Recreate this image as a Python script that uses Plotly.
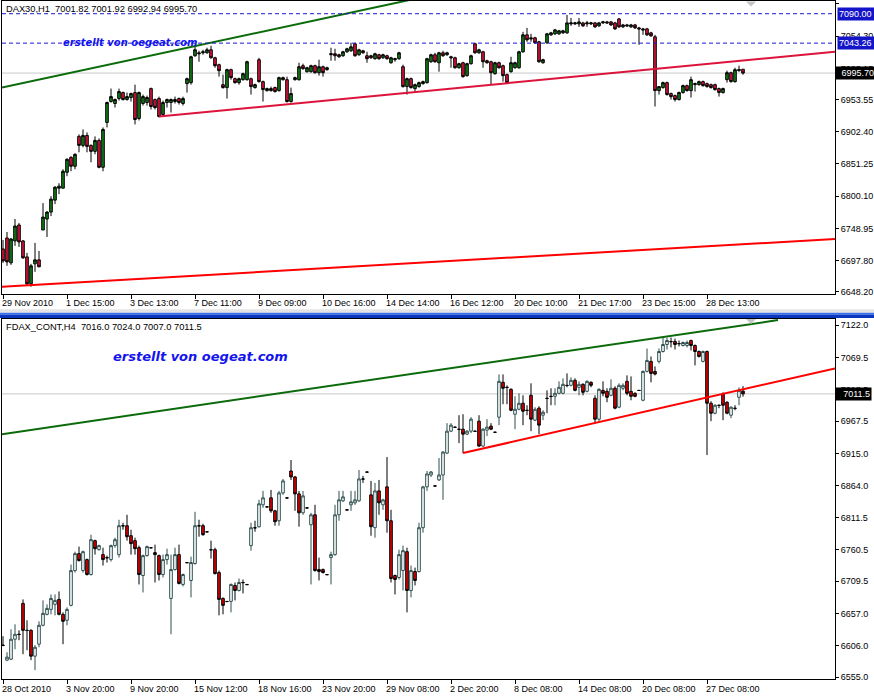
import plotly.graph_objects as go

W, H = 874, 697

# ---------------- DAX30 H1 (upper panel) ----------------
dax_title = "DAX30,H1\u00a0\u00a07001.82 7001.92 6992.94 6995.70"
dax_open = [
    6716.3, 6733.7, 6694.2, 6729.0, 6754.3, 6729.0, 6703.6, 6660.9, 6692.6, 6698.9,
    6746.4, 6763.8, 6774.8, 6793.8, 6812.8, 6812.8, 6838.1, 6861.8, 6847.6, 6895.1,
    6880.8, 6896.6, 6880.8, 6871.3, 6888.7, 6846.0, 6917.2, 6950.4, 6947.3, 6955.2,
    6964.7, 6953.6, 6956.8, 6964.7, 6923.5, 6947.3, 6948.9, 6971.0, 6953.6, 6955.2,
    6929.9, 6948.9, 6948.9, 6950.4, 6955.2, 6947.3, 6978.9, 6980.5, 7023.2, 7027.9,
    7027.9, 7027.9, 7032.7, 7020.0, 7009.0, 6977.3, 6972.6, 7001.1, 6986.8, 6980.5,
    6985.2, 6985.2, 6986.8, 6972.6, 7016.9, 6982.1, 6967.8, 6967.8, 6972.6, 6967.8,
    6988.4, 6985.2, 6950.4, 6985.2, 6985.2, 7007.4, 6997.9, 6997.9, 7007.4, 6996.3,
    7005.8, 7001.1, 7024.8, 7026.4, 7024.8, 7023.2, 7029.5, 7031.1, 7042.2, 7024.8,
    7031.1, 7023.2, 7023.2, 7018.5, 7024.8, 7020.0, 7023.2, 7012.1, 7016.9, 7018.5,
    7005.8, 6974.2, 6986.8, 6971.0, 6974.2, 6978.9, 6980.5, 7013.7, 7024.8, 7012.1,
    7027.9, 7024.8, 7021.6, 7020.0, 7004.2, 7012.1, 6991.6, 7010.6, 7042.2, 7027.9,
    7029.5, 7015.3, 7013.7, 6994.7, 7012.1, 7007.4, 6993.2, 6997.9, 7004.2, 7004.2,
    7029.5, 7056.4, 7051.7, 7051.7, 7045.4, 7012.1, 7043.8, 7056.4, 7058.0, 7058.0,
    7059.6, 7059.6, 7073.8, 7073.8, 7073.8, 7075.4, 7073.8, 7073.8, 7075.4, 7070.7,
    7075.4, 7077.0, 7077.0, 7075.4, 7081.7, 7069.1, 7072.2, 7069.1, 7072.2, 7067.5,
    7065.9, 7065.9, 7059.6, 7053.3, 6967.8, 6972.6, 6980.5, 6963.1, 6959.9, 6953.6,
    6964.7, 6975.7, 6967.8, 6977.3, 6977.3, 6982.1, 6978.9, 6977.3, 6977.3, 6971.0,
    6964.7, 6985.2, 6996.3, 6982.1, 6999.5, 7001.82,
]
dax_high = [
    6730.5, 6743.2, 6733.7, 6763.8, 6757.4, 6730.5, 6710.0, 6692.6, 6725.8, 6713.1,
    6789.1, 6776.4, 6800.1, 6816.0, 6820.7, 6842.9, 6860.3, 6863.4, 6868.2, 6898.2,
    6906.1, 6901.4, 6882.4, 6895.1, 6891.9, 6909.3, 6950.4, 6971.0, 6955.2, 6971.0,
    6966.3, 6964.7, 6964.7, 6977.3, 6966.3, 6961.5, 6959.9, 6972.6, 6955.2, 6958.3,
    6952.0, 6955.2, 6955.2, 6958.3, 6956.8, 6958.3, 6988.4, 7023.2, 7040.6, 7031.1,
    7032.7, 7035.9, 7039.0, 7021.6, 7010.6, 6993.2, 7002.6, 7002.6, 6988.4, 6988.4,
    6996.3, 7015.3, 6988.4, 6978.9, 7020.0, 6983.7, 6972.6, 6974.2, 6974.2, 6990.0,
    6990.0, 6990.0, 6972.6, 6990.0, 7012.1, 7010.6, 7005.8, 7009.0, 7009.0, 7016.9,
    7007.4, 7005.8, 7035.9, 7034.3, 7026.4, 7031.1, 7035.9, 7043.8, 7043.8, 7034.3,
    7032.7, 7029.5, 7024.8, 7027.9, 7026.4, 7026.4, 7024.8, 7021.6, 7020.0, 7029.5,
    7009.0, 6988.4, 6988.4, 6978.9, 6982.1, 6983.7, 7020.0, 7026.4, 7027.9, 7029.5,
    7031.1, 7029.5, 7023.2, 7021.6, 7012.1, 7013.7, 7012.1, 7024.8, 7043.8, 7034.3,
    7031.1, 7016.9, 7015.3, 7013.7, 7013.7, 7009.0, 6994.7, 7021.6, 7013.7, 7031.1,
    7061.2, 7067.5, 7058.0, 7053.3, 7046.9, 7018.5, 7059.6, 7061.2, 7065.9, 7064.3,
    7064.3, 7088.1, 7083.3, 7077.0, 7083.3, 7077.0, 7078.6, 7077.0, 7077.0, 7077.0,
    7078.6, 7078.6, 7078.6, 7077.0, 7083.3, 7073.8, 7073.8, 7073.8, 7073.8, 7069.1,
    7067.5, 7067.5, 7061.2, 7056.4, 6974.2, 6982.1, 6982.1, 6964.7, 6961.5, 6966.3,
    6977.3, 6977.3, 6990.0, 6980.5, 6983.7, 6983.7, 6980.5, 6978.9, 6978.9, 6972.6,
    6972.6, 6999.5, 6997.9, 7004.2, 7007.4, 7001.92,
]
dax_low = [
    6694.2, 6689.4, 6691.0, 6721.1, 6719.5, 6700.5, 6657.8, 6656.2, 6679.9, 6687.8,
    6746.4, 6735.3, 6768.5, 6787.5, 6803.3, 6812.8, 6831.8, 6839.7, 6842.9, 6869.8,
    6877.7, 6869.8, 6853.9, 6866.6, 6844.4, 6839.7, 6909.3, 6948.9, 6940.9, 6952.0,
    6952.0, 6952.0, 6950.4, 6914.1, 6920.4, 6944.1, 6944.1, 6937.8, 6937.8, 6925.1,
    6926.7, 6940.9, 6933.0, 6947.3, 6945.7, 6944.1, 6964.7, 6977.3, 7021.6, 7013.7,
    7024.8, 7026.4, 7018.5, 7004.2, 6990.0, 6971.0, 6955.2, 6985.2, 6978.9, 6977.3,
    6983.7, 6983.7, 6961.5, 6971.0, 6980.5, 6950.4, 6966.3, 6966.3, 6964.7, 6966.3,
    6983.7, 6948.9, 6948.9, 6983.7, 6983.7, 7001.1, 6996.3, 6996.3, 6994.7, 6991.6,
    6990.0, 6999.5, 7015.3, 7015.3, 7020.0, 7021.6, 7027.9, 7029.5, 7021.6, 7023.2,
    7026.4, 7012.1, 7018.5, 7016.9, 7016.9, 7018.5, 7016.9, 7010.6, 7013.7, 7016.9,
    6972.6, 6961.5, 6971.0, 6966.3, 6972.6, 6977.3, 6978.9, 7012.1, 7012.1, 6997.9,
    7021.6, 7023.2, 7004.2, 7002.6, 7002.6, 6988.4, 6990.0, 7009.0, 7026.4, 7026.4,
    7004.2, 7010.6, 6977.3, 6993.2, 7002.6, 6982.1, 6978.9, 6996.3, 7002.6, 7002.6,
    7027.9, 7045.4, 7045.4, 7042.2, 7012.1, 7010.6, 7042.2, 7054.8, 7056.4, 7056.4,
    7058.0, 7058.0, 7070.7, 7072.2, 7069.1, 7069.1, 7069.1, 7072.2, 7067.5, 7069.1,
    7073.8, 7073.8, 7070.7, 7064.3, 7067.5, 7067.5, 7069.1, 7067.5, 7065.9, 7040.6,
    7056.4, 7054.8, 7053.3, 6942.5, 6961.5, 6971.0, 6959.9, 6953.6, 6950.4, 6952.0,
    6963.1, 6966.3, 6956.8, 6966.3, 6975.7, 6974.2, 6972.6, 6971.0, 6967.8, 6958.3,
    6963.1, 6980.5, 6980.5, 6980.5, 6997.9, 6992.94,
]
dax_close = [
    6697.3, 6695.7, 6732.1, 6752.7, 6727.4, 6702.1, 6660.9, 6689.4, 6698.9, 6687.8,
    6766.9, 6774.8, 6795.4, 6814.4, 6816.0, 6839.7, 6858.7, 6847.6, 6866.6, 6880.8,
    6896.6, 6879.2, 6871.3, 6888.7, 6846.0, 6906.1, 6948.9, 6958.3, 6953.6, 6966.3,
    6953.6, 6958.3, 6963.1, 6921.9, 6964.7, 6958.3, 6956.8, 6942.5, 6940.9, 6926.7,
    6948.9, 6953.6, 6953.6, 6953.6, 6948.9, 6955.2, 6986.8, 7021.6, 7032.7, 7026.4,
    7029.5, 7032.7, 7020.0, 7007.4, 6999.5, 6972.6, 7001.1, 6988.4, 6980.5, 6986.8,
    6994.7, 7013.7, 6974.2, 6977.3, 6982.1, 6969.4, 6971.0, 6971.0, 6966.3, 6988.4,
    6985.2, 6950.4, 6963.1, 6988.4, 7005.8, 7002.6, 7004.2, 7007.4, 6996.3, 7005.8,
    6996.3, 7004.2, 7026.4, 7023.2, 7021.6, 7029.5, 7034.3, 7037.4, 7023.2, 7032.7,
    7027.9, 7018.5, 7020.0, 7026.4, 7018.5, 7024.8, 7018.5, 7020.0, 7018.5, 7027.9,
    6974.2, 6986.8, 6972.6, 6977.3, 6980.5, 6982.1, 7018.5, 7024.8, 7013.7, 7027.9,
    7023.2, 7027.9, 7020.0, 7004.2, 7010.6, 6990.0, 7010.6, 7023.2, 7027.9, 7032.7,
    7013.7, 7012.1, 6996.3, 7012.1, 7004.2, 6991.6, 6980.5, 7012.1, 7012.1, 7029.5,
    7056.4, 7048.5, 7050.1, 7043.8, 7013.7, 7016.9, 7058.0, 7059.6, 7064.3, 7062.8,
    7062.8, 7075.4, 7075.4, 7075.4, 7077.0, 7070.7, 7075.4, 7075.4, 7069.1, 7075.4,
    7077.0, 7075.4, 7072.2, 7065.9, 7069.1, 7072.2, 7070.7, 7072.2, 7067.5, 7065.9,
    7064.3, 7056.4, 7054.8, 6967.8, 6974.2, 6980.5, 6961.5, 6958.3, 6953.6, 6964.7,
    6975.7, 6967.8, 6985.2, 6978.9, 6982.1, 6975.7, 6974.2, 6972.6, 6969.4, 6964.7,
    6971.0, 6996.3, 6982.1, 7001.1, 7001.1, 6995.70,
]
dax_yticks = [7105.45, 7054.30, 7003.15, 6953.55, 6902.40, 6851.25, 6800.10, 6748.95, 6697.80, 6648.20]
dax_xlabels = ["29 Nov 2010", "1 Dec 15:00", "3 Dec 13:00", "7 Dec 11:00", "9 Dec 09:00", "10 Dec 16:00",
               "14 Dec 14:00", "16 Dec 12:00", "20 Dec 10:00", "21 Dec 17:00", "23 Dec 15:00", "28 Dec 13:00"]
dax_xlabel_bars = [0, 16, 32, 48, 64, 80, 96, 112, 128, 144, 160, 176]
dax_hlines = [7090.00, 7043.26]
dax_last = 6995.70
# trend lines: (bar index, price) end points
dax_green_x, dax_green_y = [-0.25, 105], [6972.6, 7116.4]
dax_crimson_x, dax_crimson_y = [39, 208], [6926.7, 7029.5]
dax_red_x, dax_red_y = [-0.25, 208], [6656.2, 6732.1]

# ---------------- FDAX_CONT H4 (lower panel) ----------------
fdax_title = "FDAX_CONT,H4\u00a0\u00a07016.0 7024.0 7007.0 7011.5"
fdax_open = [
    6606.4, 6582.3, 6583.9, 6616.0, 6624.0, 6673.8, 6630.4, 6630.4, 6588.7, 6608.0,
    6638.5, 6656.1, 6664.1, 6672.2, 6680.2, 6656.1, 6646.5, 6670.6, 6726.7, 6754.0,
    6726.7, 6744.4, 6720.3, 6774.9, 6760.4, 6752.4, 6747.6, 6744.4, 6766.9, 6752.4,
    6799.0, 6799.0, 6782.9, 6774.9, 6763.6, 6718.7, 6750.8, 6763.6, 6755.6, 6750.8,
    6720.3, 6744.4, 6681.8, 6728.3, 6752.4, 6704.3, 6739.6, 6710.7, 6738.0, 6799.0,
    6799.0, 6789.3, 6760.4, 6760.4, 6723.5, 6681.8, 6677.0, 6677.0, 6702.7, 6694.6,
    6707.5, 6704.3, 6766.9, 6795.8, 6797.4, 6832.7, 6829.5, 6843.9, 6823.0, 6807.0,
    6851.9, 6843.9, 6887.2, 6877.6, 6850.3, 6819.8, 6827.8, 6800.6, 6816.6, 6728.3,
    6728.3, 6720.3, 6747.6, 6752.4, 6816.6, 6839.1, 6824.6, 6832.7, 6835.9, 6839.1,
    6874.4, 6885.6, 6848.7, 6795.8, 6855.1, 6832.7, 6861.6, 6807.0, 6718.7, 6715.5,
    6726.7, 6757.2, 6694.6, 6725.1, 6725.1, 6795.8, 6861.6, 6880.8, 6863.2, 6872.8,
    6880.8, 6916.1, 6951.4, 6957.9, 6954.6, 6954.6, 6946.6, 6951.4, 6951.4, 6967.5,
    6927.4, 6953.0, 6959.5, 6949.8, 6973.9, 7030.1, 7022.1, 7018.8, 6978.7, 6986.7,
    6996.4, 6985.1, 7009.2, 6969.1, 6988.4, 6977.1, 7004.4, 7007.6, 7007.6, 7012.4,
    7012.4, 7025.3, 7025.3, 7033.3, 7022.1, 7026.9, 7015.6, 7030.1, 7004.4, 6970.7,
    7017.2, 7015.6, 7009.2, 7020.5, 6990.0, 7020.5, 7031.7, 7015.6, 7012.4, 7017.2,
    7001.2, 7047.7, 7063.8, 7047.7, 7063.8, 7079.8, 7091.1, 7095.9, 7095.9, 7092.7,
    7089.5, 7089.5, 7097.5, 7089.5, 7079.8, 7063.8, 7079.8, 6996.4, 6980.3, 6993.2,
    7010.8, 6998.0, 6977.1, 6988.4, 7006.0, 7016.0,
]
fdax_high = [
    6620.8, 6595.1, 6632.0, 6640.1, 6630.4, 6680.2, 6646.5, 6632.0, 6606.4, 6644.9,
    6678.6, 6672.2, 6688.2, 6688.2, 6693.0, 6659.3, 6667.4, 6736.4, 6757.2, 6765.3,
    6758.8, 6746.0, 6784.5, 6776.5, 6768.5, 6763.6, 6750.8, 6768.5, 6779.7, 6808.6,
    6803.8, 6816.6, 6792.5, 6779.7, 6766.9, 6752.4, 6766.9, 6764.5, 6768.5, 6752.4,
    6752.4, 6762.0, 6752.4, 6763.6, 6768.5, 6721.9, 6740.5, 6749.2, 6821.4, 6808.6,
    6802.2, 6790.0, 6774.9, 6763.6, 6726.7, 6683.4, 6677.5, 6705.9, 6707.5, 6713.9,
    6712.3, 6705.0, 6803.8, 6807.0, 6840.7, 6855.1, 6830.0, 6856.7, 6824.6, 6855.1,
    6874.4, 6844.5, 6904.9, 6879.2, 6855.1, 6855.1, 6828.5, 6819.8, 6832.7, 6747.6,
    6730.0, 6721.0, 6757.2, 6832.7, 6855.1, 6855.1, 6825.2, 6855.1, 6855.1, 6888.8,
    6879.2, 6886.2, 6871.2, 6868.0, 6872.8, 6842.3, 6909.7, 6824.6, 6720.3, 6760.4,
    6766.9, 6763.6, 6734.8, 6731.5, 6803.8, 6863.2, 6887.2, 6887.2, 6863.8, 6908.1,
    6919.3, 6964.3, 6964.3, 6958.5, 6977.1, 6978.7, 6953.0, 6973.9, 6952.0, 6977.1,
    6956.3, 6970.7, 6964.3, 6950.4, 7042.9, 7042.9, 7025.3, 7020.5, 7007.6, 7012.4,
    7009.2, 6993.2, 7028.5, 6990.0, 6991.6, 6985.1, 7017.2, 7020.5, 7020.5, 7031.7,
    7036.5, 7044.5, 7038.1, 7036.5, 7031.7, 7028.5, 7033.3, 7031.7, 7009.2, 7020.5,
    7031.7, 7020.5, 7034.9, 7023.7, 7028.5, 7028.5, 7041.3, 7039.7, 7014.0, 7017.8,
    7049.3, 7084.6, 7071.8, 7055.8, 7084.6, 7103.9, 7102.3, 7102.3, 7100.7, 7097.5,
    7095.9, 7097.5, 7099.1, 7091.1, 7081.4, 7081.4, 7081.4, 6999.6, 6994.8, 6994.0,
    7014.0, 6999.6, 6991.6, 6993.2, 7022.1, 7024.0,
]
fdax_low = [
    6604.8, 6580.7, 6582.3, 6599.9, 6614.4, 6591.9, 6598.3, 6582.3, 6566.2, 6603.1,
    6636.9, 6654.5, 6656.1, 6654.5, 6654.5, 6608.0, 6638.5, 6669.0, 6723.5, 6741.2,
    6723.5, 6718.7, 6718.7, 6752.4, 6758.8, 6734.8, 6739.6, 6741.2, 6763.6, 6747.6,
    6792.5, 6774.9, 6752.4, 6752.4, 6704.3, 6691.4, 6749.2, 6763.0, 6707.5, 6710.7,
    6715.5, 6736.4, 6624.0, 6726.7, 6704.3, 6701.1, 6739.0, 6683.4, 6736.4, 6781.3,
    6782.9, 6789.0, 6746.0, 6720.3, 6654.5, 6656.1, 6676.5, 6659.3, 6678.6, 6693.0,
    6689.8, 6704.0, 6758.8, 6789.3, 6795.8, 6827.8, 6829.0, 6819.8, 6799.0, 6799.0,
    6848.7, 6843.5, 6872.8, 6823.0, 6797.4, 6816.6, 6827.5, 6704.3, 6725.1, 6710.7,
    6721.9, 6720.0, 6704.3, 6750.8, 6807.0, 6837.5, 6824.2, 6823.0, 6832.7, 6837.5,
    6868.0, 6885.2, 6782.9, 6779.7, 6816.6, 6824.6, 6787.7, 6707.5, 6688.2, 6712.3,
    6694.6, 6659.3, 6683.4, 6702.7, 6723.5, 6787.7, 6855.1, 6877.6, 6862.8, 6871.2,
    6840.7, 6914.5, 6949.8, 6957.5, 6932.2, 6916.1, 6945.0, 6948.2, 6951.0, 6925.8,
    6925.8, 6943.4, 6953.0, 6949.4, 6961.1, 6994.8, 6994.8, 6983.5, 6954.6, 6985.1,
    6961.1, 6977.1, 6951.4, 6967.5, 6946.6, 6969.1, 6980.3, 6993.2, 6993.2, 7010.8,
    7010.8, 7022.1, 7023.7, 7015.6, 7009.2, 7009.2, 7014.0, 7022.1, 6964.3, 6967.5,
    7007.6, 6998.0, 7007.6, 6986.7, 6988.4, 7017.2, 7009.2, 7001.2, 7006.0, 7016.8,
    6999.6, 7046.1, 7030.1, 7041.3, 7060.6, 7078.2, 7083.0, 7086.3, 7083.0, 7087.9,
    7087.9, 7086.3, 7081.4, 7057.4, 7070.2, 7062.2, 6912.9, 6967.5, 6978.7, 6988.4,
    6969.1, 6978.7, 6972.3, 6985.1, 6993.2, 7007.0,
]
fdax_close = [
    6606.1, 6587.1, 6616.0, 6624.0, 6623.7, 6630.4, 6630.1, 6588.7, 6603.1, 6638.5,
    6657.7, 6665.7, 6681.8, 6678.6, 6656.1, 6644.9, 6664.1, 6726.7, 6754.0, 6742.8,
    6757.2, 6720.3, 6776.5, 6762.0, 6766.9, 6744.4, 6747.3, 6766.9, 6776.5, 6799.0,
    6798.7, 6781.3, 6770.1, 6762.0, 6720.3, 6750.8, 6765.3, 6763.3, 6752.4, 6720.3,
    6744.4, 6752.4, 6728.3, 6752.4, 6705.9, 6720.3, 6739.3, 6739.6, 6799.0, 6798.7,
    6784.5, 6789.0, 6760.1, 6721.9, 6680.2, 6670.6, 6676.7, 6704.3, 6694.6, 6707.5,
    6707.2, 6704.0, 6795.8, 6795.5, 6834.3, 6843.9, 6829.2, 6823.0, 6805.4, 6851.9,
    6871.2, 6843.6, 6877.6, 6850.3, 6819.8, 6847.1, 6827.5, 6816.6, 6726.7, 6725.1,
    6723.5, 6720.0, 6752.4, 6816.6, 6840.7, 6845.5, 6824.3, 6837.5, 6840.7, 6874.4,
    6874.1, 6885.3, 6797.4, 6855.1, 6835.9, 6840.7, 6807.0, 6713.9, 6712.3, 6752.4,
    6758.8, 6694.6, 6726.7, 6710.7, 6795.8, 6861.6, 6882.4, 6885.6, 6862.9, 6880.8,
    6917.7, 6951.4, 6961.1, 6957.6, 6954.3, 6946.6, 6951.4, 6970.7, 6951.1, 6927.4,
    6954.6, 6957.9, 6954.6, 6949.5, 7031.7, 7020.5, 7021.8, 6985.1, 6986.7, 6996.4,
    6983.5, 6984.8, 6970.7, 6986.7, 6961.1, 6981.9, 7004.1, 7007.3, 7012.4, 7022.1,
    7026.9, 7025.0, 7033.3, 7017.2, 7026.9, 7014.0, 7031.7, 7025.3, 6970.7, 7018.8,
    7012.4, 7006.0, 7020.5, 6988.4, 7025.3, 7025.3, 7012.4, 7007.6, 7007.6, 7016.9,
    7047.7, 7065.4, 7044.5, 7043.5, 7079.8, 7091.1, 7097.5, 7095.6, 7091.1, 7092.4,
    7094.3, 7094.3, 7089.5, 7079.8, 7071.8, 7079.8, 6996.4, 6980.3, 6993.2, 6992.9,
    6993.2, 6980.3, 6990.0, 6988.1, 7017.2, 7011.5,
]
fdax_yticks = [7122.0, 7069.5, 7018.5, 6967.5, 6915.0, 6864.0, 6811.5, 6760.5, 6709.5, 6657.0, 6606.0, 6555.0]
fdax_xlabels = ["28 Oct 2010", "3 Nov 20:00", "9 Nov 20:00", "15 Nov 12:00", "18 Nov 16:00", "23 Nov 20:00",
                "29 Nov 08:00", "2 Dec 20:00", "8 Dec 08:00", "14 Dec 08:00", "20 Dec 08:00", "27 Dec 08:00"]
fdax_xlabel_bars = [0, 16, 32, 48, 64, 80, 96, 112, 128, 144, 160, 176]
fdax_last = 7011.5
fdax_green_x, fdax_green_y = [-0.25, 193.75], [6946.6, 7130.4]
fdax_red_x, fdax_red_y = [115, 208], [6916.1, 7052.6]

watermark = "erstellt von oegeat.com"

# ---------------- figure ----------------
def yp(p):
    return 1 - p / H

def xp(p):
    return p / W

FONT = "Liberation Sans"
fig = go.Figure()

fig.add_trace(go.Candlestick(
    x=list(range(len(dax_open))), open=dax_open, high=dax_high, low=dax_low, close=dax_close,
    xaxis="x", yaxis="y", whiskerwidth=0, showlegend=False,
    increasing=dict(line=dict(color="black", width=1), fillcolor="#157f15"),
    decreasing=dict(line=dict(color="black", width=1), fillcolor="#dc143c"),
))
fig.add_trace(go.Candlestick(
    x=list(range(len(fdax_open))), open=fdax_open, high=fdax_high, low=fdax_low, close=fdax_close,
    xaxis="x2", yaxis="y2", whiskerwidth=0, showlegend=False,
    increasing=dict(line=dict(color="#2f4f4f", width=1), fillcolor="white"),
    decreasing=dict(line=dict(color="black", width=1), fillcolor="#e00000"),
))

def trend(xs, ys, color, xa, ya):
    fig.add_trace(go.Scatter(x=xs, y=ys, mode="lines", line=dict(color=color, width=2),
                             xaxis=xa, yaxis=ya, showlegend=False, hoverinfo="skip"))

trend(dax_green_x, dax_green_y, "#0b6b0b", "x", "y")
trend(dax_crimson_x, dax_crimson_y, "#dc143c", "x", "y")
trend(dax_red_x, dax_red_y, "#ff0000", "x", "y")
trend(fdax_green_x, fdax_green_y, "#0b6b0b", "x2", "y2")
trend(fdax_red_x, fdax_red_y, "#ff0000", "x2", "y2")

shapes = []
# last price gray lines
shapes.append(dict(type="line", xref="x domain", x0=0, x1=1, yref="y", y0=dax_last, y1=dax_last,
                   line=dict(color="#c8c8c8", width=1), layer="below"))
shapes.append(dict(type="line", xref="x2 domain", x0=0, x1=1, yref="y2", y0=fdax_last, y1=fdax_last,
                   line=dict(color="#c8c8c8", width=1), layer="below"))
for lv in dax_hlines:
    shapes.append(dict(type="line", xref="x domain", x0=0, x1=1, yref="y", y0=lv, y1=lv,
                       line=dict(color="#1a1ad0", width=1, dash="4px,3px")))
# window separator
shapes.append(dict(type="rect", xref="paper", yref="paper", x0=0, x1=1, y0=yp(314), y1=yp(310.5),
                   fillcolor="#e4e4e4", line=dict(width=0)))
shapes.append(dict(type="rect", xref="paper", yref="paper", x0=0, x1=1, y0=yp(316), y1=yp(314),
                   fillcolor="#3a6fe6", line=dict(width=0)))
shapes.append(dict(type="rect", xref="paper", yref="paper", x0=0, x1=1, y0=yp(319.5), y1=yp(316),
                   fillcolor="#0a36c0", line=dict(width=0)))
# chart shift markers
for top in (1.5, 320.5):
    shapes.append(dict(type="path", xref="paper", yref="paper",
                       path=f"M {xp(746)},{yp(top)} L {xp(756)},{yp(top)} L {xp(751)},{yp(top+5)} Z",
                       fillcolor="#c4c4c4", line=dict(width=0)))

ann = []
ann.append(dict(xref="paper", yref="paper", x=xp(4), y=yp(9.5), xanchor="left", yanchor="middle",
                text=dax_title, showarrow=False, font=dict(size=9.3, family=FONT, color="black")))
ann.append(dict(xref="paper", yref="paper", x=xp(4), y=yp(328.5), xanchor="left", yanchor="middle",
                text=fdax_title, showarrow=False, font=dict(size=9.3, family=FONT, color="black")))
ann.append(dict(xref="paper", yref="paper", x=xp(61), y=yp(42.5), xanchor="left", yanchor="middle",
                text=f"<b><i>{watermark}</i></b>", showarrow=False,
                font=dict(size=10, family="DejaVu Sans", color="#1414ee")))
ann.append(dict(xref="paper", yref="paper", x=xp(111), y=yp(358), xanchor="left", yanchor="middle",
                text=f"<b><i>{watermark}</i></b>", showarrow=False,
                font=dict(size=13, family="DejaVu Sans", color="#1414ee")))
for b, t in zip(dax_xlabel_bars, dax_xlabels):
    ann.append(dict(xref="x", yref="paper", x=b, y=yp(304.5), xanchor="left", yanchor="middle",
                    xshift=-3, text=t, showarrow=False, font=dict(size=9, family=FONT, color="black")))
for b, t in zip(fdax_xlabel_bars, fdax_xlabels):
    ann.append(dict(xref="x2", yref="paper", x=b, y=yp(691.5), xanchor="left", yanchor="middle",
                    xshift=-3, text=t, showarrow=False, font=dict(size=9, family=FONT, color="black")))
# price tags
for lv in dax_hlines:
    ann.append(dict(xref="paper", yref="y", x=xp(837), y=lv, xanchor="left", yanchor="middle",
                    text=f"{lv:.2f}", showarrow=False, bgcolor="#1414c8", borderpad=1, width=35, height=10,
                    align="left", font=dict(size=9, family=FONT, color="white")))
ann.append(dict(xref="paper", yref="y", x=xp(835), y=dax_last, xanchor="left", yanchor="middle",
                text=f"{dax_last:.2f}", showarrow=False, bgcolor="black", borderpad=1, width=37, height=10,
                align="right", font=dict(size=9, family=FONT, color="white")))
ann.append(dict(xref="paper", yref="y2", x=xp(835), y=fdax_last, xanchor="left", yanchor="middle",
                text=f"{fdax_last:.1f}", showarrow=False, bgcolor="black", borderpad=1, width=33, height=10,
                align="right", font=dict(size=9, family=FONT, color="white")))

common_x = dict(showline=True, linecolor="black", linewidth=1, mirror=True, showgrid=False, zeroline=False,
                ticks="outside", ticklen=4, tickcolor="black", showticklabels=False,
                rangeslider=dict(visible=False), range=[-0.25, 208], domain=[xp(2), xp(835)])
common_y = dict(showline=True, linecolor="black", linewidth=1, mirror=True, showgrid=False, zeroline=False,
                ticks="outside", ticklen=3, tickcolor="black", side="right",
                tickfont=dict(size=9, family=FONT, color="black"))

fig.update_layout(
    width=W, height=H, margin=dict(l=0, r=0, t=0, b=0, pad=0),
    paper_bgcolor="white", plot_bgcolor="white", showlegend=False,
    font=dict(family=FONT, size=9, color="black"),
    boxgap=0.35, boxgroupgap=0,
    xaxis=dict(common_x, anchor="y", tickvals=dax_xlabel_bars),
    yaxis=dict(common_y, anchor="x", domain=[yp(295), yp(1)], range=[6645.1, 7110.2],
               tickvals=dax_yticks, ticktext=[f"{v:.2f}" for v in dax_yticks]),
    xaxis2=dict(common_x, anchor="y2", tickvals=fdax_xlabel_bars),
    yaxis2=dict(common_y, anchor="x2", domain=[yp(682), yp(320)], range=[6551.8, 7132.8],
                tickvals=fdax_yticks, ticktext=[f"{v:.1f}" for v in fdax_yticks]),
    shapes=shapes, annotations=ann,
)

fig.write_html("out.html", config={"displayModeBar": False},
               post_script="document.body.style.margin='0';document.body.style.overflow='hidden';")
